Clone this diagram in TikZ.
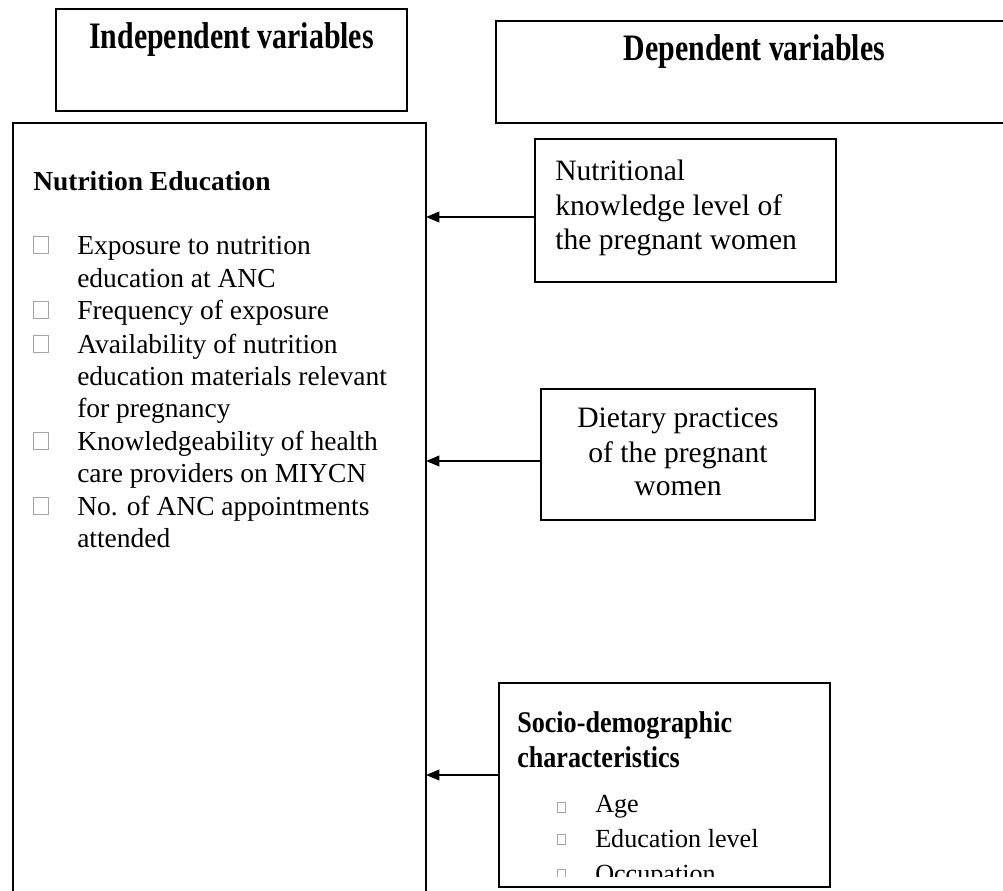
\documentclass[tikz,border=0pt]{standalone}
\usepackage{graphicx}
\usepackage{fontspec}
\setmainfont{Liberation Serif}
\usetikzlibrary{arrows.meta}
\newcommand\fHead{\fontsize{22.4}{26}\selectfont\bfseries}
\newcommand\fBody{\fontsize{20.6}{24}\selectfont}
\newcommand\fRight{\fontsize{22.2}{26}\selectfont}
\newcommand\fSoc{\fontsize{19.6}{24}\selectfont}
\newcommand\tallA[1]{\scalebox{1}[1.25]{#1}}
\newcommand\tallB[1]{\scalebox{1}[1.15]{#1}}
\tikzset{
  box/.style={draw, line width=1.5pt, anchor=north west, inner sep=0pt, outer sep=0pt},
  txt/.style={inner sep=0pt, anchor=base west},
  bul/.style={draw=gray!70, line width=0.4pt, inner sep=0pt, anchor=south west, minimum width=11.25pt, minimum height=12.75pt},
  sbul/.style={draw=gray!70, line width=0.4pt, inner sep=0pt, anchor=south west, minimum width=6pt, minimum height=7.5pt},
  arr/.style={line width=1.2pt, -{Triangle[length=10pt,width=8pt]}}
}
\begin{document}
\begin{tikzpicture}[x=0.75pt,y=-0.75pt]
\useasboundingbox (0,0) rectangle (1003,890);
\clip (0,0) rectangle (1003,890);
% header boxes
\node[box, minimum width=263.25pt, minimum height=76.5pt] (ind) at (56,9) {};
\node[inner sep=0pt, anchor=base, font=\fHead] (indt) at (231.5,48) {\tallA{Independent variables}};
\node[box, minimum width=390pt, minimum height=76.5pt] (dep) at (496,21) {};
\node[inner sep=0pt, anchor=base, font=\fHead] (dept) at (754.5,60) {\tallA{Dependent variables}};
% left big box
\node[box, minimum width=309.75pt, minimum height=600pt] (lb) at (13,123) {};
\node[txt, font=\fBody\bfseries] (ne) at (33,190) {Nutrition Education};
\node[bul] (b1) at (33,254) {};
\node[txt, font=\fBody] (l1) at (77,254) {Exposure to nutrition};
\node[txt, font=\fBody] (l1b) at (77,287) {education at ANC};
\node[bul] (b2) at (33,319) {};
\node[txt, font=\fBody] (l2) at (77,319) {Frequency of exposure};
\node[bul] (b3) at (33,353) {};
\node[txt, font=\fBody] (l3) at (77,353) {Availability of nutrition};
\node[txt, font=\fBody] (l3b) at (77,385) {education materials relevant};
\node[txt, font=\fBody] (l3c) at (77,417) {for pregnancy};
\node[bul] (b4) at (33,450) {};
\node[txt, font=\fBody] (l4) at (77,450) {Knowledgeability of health};
\node[txt, font=\fBody] (l4b) at (77,482) {care providers on MIYCN};
\node[bul] (b5) at (33,515) {};
\node[txt, font=\fBody] (l5) at (77,515) {No. of ANC appointments};
\node[txt, font=\fBody] (l5b) at (77,547) {attended};
% nutritional knowledge box
\node[box, minimum width=225.75pt, minimum height=107.25pt] (nut) at (535,139) {};
\node[txt, font=\fRight] (n1) at (555,180) {Nutritional};
\node[txt, font=\fRight] (n2) at (555,215) {knowledge level of};
\node[txt, font=\fRight] (n3) at (555,249) {the pregnant women};
% dietary box
\node[box, minimum width=205.5pt, minimum height=98.25pt] (diet) at (541,389) {};
\node[inner sep=0pt, anchor=base, font=\fRight] (d1) at (678,427) {Dietary practices};
\node[inner sep=0pt, anchor=base, font=\fRight] (d2) at (678,462) {of the pregnant};
\node[inner sep=0pt, anchor=base, font=\fRight] (d3) at (678,495) {women};
% socio-demographic box
\node[box, minimum width=248.25pt, minimum height=153pt] (soc) at (499,683) {};
\node[txt, font=\fSoc\bfseries] (s1) at (517,732) {\tallB{Socio-demographic}};
\node[txt, font=\fSoc\bfseries] (s2) at (517,767) {\tallB{characteristics}};
\node[sbul] (sb1) at (557,813) {};
\node[txt, font=\fSoc] (s3) at (595,812) {Age};
\node[sbul] (sb2) at (557,845) {};
\node[txt, font=\fSoc] (s4) at (595,847) {Education level};
\begin{scope}
\clip (505,690) rectangle (825,876);
\node[sbul] (sb3) at (557,880) {};
\node[txt, font=\fSoc] (s5) at (595,882) {Occupation};
\end{scope}
% arrows
\coordinate (a1) at (535,217);
\coordinate (a2) at (541,461);
\coordinate (a3) at (499,775);
\draw[arr] (a1) -- (a1 -| lb.east);
\draw[arr] (a2) -- (a2 -| lb.east);
\draw[arr] (a3) -- (a3 -| lb.east);
\end{tikzpicture}
\end{document}
